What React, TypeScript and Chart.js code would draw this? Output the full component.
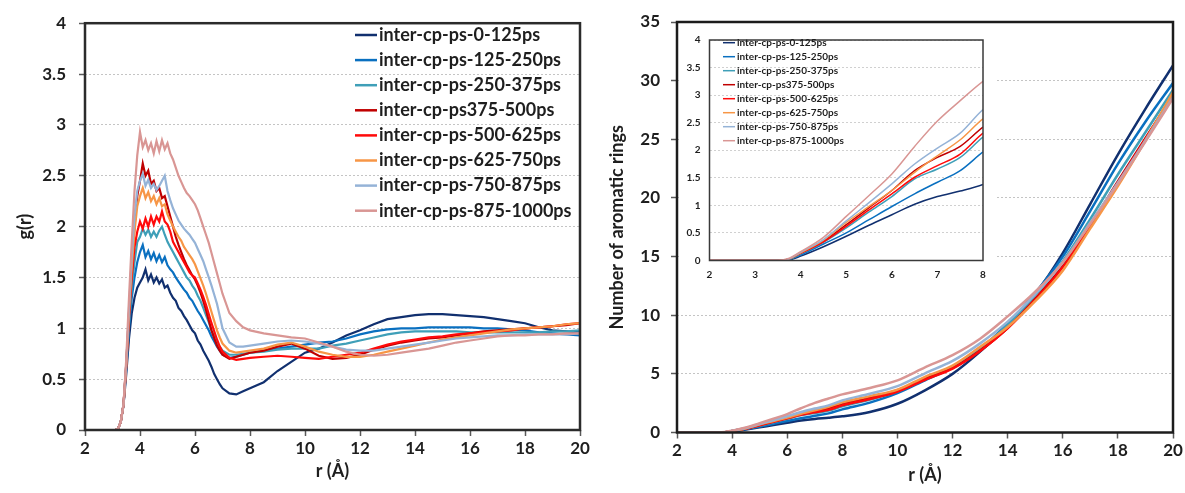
import React, { useEffect, useRef } from "react";
import { Chart, registerables } from "chart.js";

Chart.register(...registerables);

const FONT = "Lato, 'Open Sans', 'DejaVu Sans', sans-serif";
const TEXT = "#1e1e1e";

const SERIES_LABELS = [
  "inter-cp-ps-0-125ps",
  "inter-cp-ps-125-250ps",
  "inter-cp-ps-250-375ps",
  "inter-cp-ps375-500ps",
  "inter-cp-ps-500-625ps",
  "inter-cp-ps-625-750ps",
  "inter-cp-ps-750-875ps",
  "inter-cp-ps-875-1000ps",
];
const COLORS = ["#11306f", "#0a70c0", "#3f9fb8", "#c00000", "#ff0a0a", "#f79646", "#95b3d7", "#d99694"];

// ---- left panel: g(r) ----
const rG = [
  2, 2.5, 3, 3.1, 3.2, 3.3, 3.4, 3.5, 3.6, 3.7, 3.8, 3.9,
  4, 4.1, 4.2, 4.3, 4.4, 4.5, 4.6, 4.7, 4.8, 4.9,
  5, 5.1, 5.2, 5.3, 5.4, 5.5, 5.6, 5.7, 5.8, 5.9,
  6, 6.1, 6.2, 6.3, 6.4, 6.5, 6.6, 6.7, 6.8, 6.9, 7,
  7.25, 7.5, 7.75, 8,
  8.5, 9, 9.5, 10, 10.5, 11, 11.5, 12, 12.5, 13, 13.5, 14, 14.5, 15, 15.5, 16, 16.5, 17, 17.5, 18, 18.5, 19, 19.5, 20,
];
const g0 = [
  0, 0, 0, 0, 0.01, 0.08, 0.24, 0.55, 0.9, 1.15, 1.3, 1.4,
  1.45, 1.5, 1.58, 1.47, 1.53, 1.45, 1.5, 1.44, 1.48, 1.4,
  1.42, 1.35, 1.3, 1.27, 1.2, 1.17, 1.12, 1.08, 1.03, 0.98,
  0.95, 0.88, 0.84, 0.78, 0.73, 0.68, 0.62, 0.55, 0.5, 0.45, 0.41,
  0.36, 0.35, 0.38, 0.41,
  0.47, 0.58, 0.67, 0.76, 0.8, 0.86, 0.93, 0.98, 1.04, 1.09, 1.11, 1.13, 1.14, 1.14, 1.13, 1.12, 1.11, 1.09, 1.07, 1.05, 1.01, 0.98, 0.97, 0.96,
];
const g1 = [
  0, 0, 0, 0, 0.01, 0.08, 0.25, 0.6, 1.0, 1.3, 1.5, 1.65,
  1.75, 1.82, 1.7, 1.76, 1.68, 1.74, 1.66, 1.72, 1.65, 1.7,
  1.62, 1.58, 1.55, 1.5, 1.46, 1.42, 1.38, 1.35, 1.3, 1.27,
  1.22, 1.17, 1.13, 1.08, 1.03, 0.98, 0.92, 0.87, 0.82, 0.78, 0.74,
  0.71, 0.72, 0.74, 0.76,
  0.78, 0.8, 0.82, 0.84, 0.86, 0.87, 0.9, 0.94, 0.97, 0.99, 1.0, 1.0, 1.01, 1.01, 1.01, 1.01, 1.0, 1.0, 0.99, 0.98, 0.96, 0.95, 0.94, 0.93,
];
const g2 = [
  0, 0, 0, 0, 0.01, 0.08, 0.25, 0.62, 1.05, 1.4, 1.65, 1.85,
  1.9, 1.98, 1.92, 1.97, 1.9, 1.95, 1.9, 1.96, 2.0, 1.92,
  1.85, 1.8, 1.75, 1.7, 1.65, 1.6, 1.55, 1.5, 1.47, 1.42,
  1.38, 1.32, 1.27, 1.2, 1.13, 1.06, 0.98, 0.92, 0.86, 0.82, 0.78,
  0.74, 0.74, 0.75, 0.76,
  0.77, 0.79, 0.8, 0.8, 0.8, 0.83, 0.85, 0.88, 0.91, 0.94, 0.96, 0.97, 0.97, 0.97, 0.97, 0.96, 0.96, 0.96, 0.96, 0.96, 0.96, 0.97, 0.97, 0.98,
];
const g3 = [
  0, 0, 0, 0, 0.01, 0.08, 0.25, 0.65, 1.15, 1.6, 2.0, 2.3,
  2.45, 2.62, 2.5, 2.55, 2.42, 2.45, 2.35, 2.38, 2.28, 2.3,
  2.2, 2.1, 2.0, 1.9, 1.82, 1.75, 1.68, 1.62, 1.57, 1.52,
  1.48, 1.42, 1.35, 1.27, 1.18, 1.08, 0.98, 0.9, 0.83, 0.78, 0.74,
  0.7, 0.72, 0.74, 0.76,
  0.78, 0.82, 0.85, 0.8, 0.73, 0.7, 0.71, 0.74, 0.79, 0.83, 0.86, 0.88, 0.9, 0.91, 0.93, 0.95, 0.97, 0.98, 0.99, 1.0, 1.01, 1.02, 1.03, 1.05,
];
const g4 = [
  0, 0, 0, 0, 0.01, 0.08, 0.25, 0.63, 1.1, 1.5, 1.8, 1.95,
  2.05, 1.98, 2.08, 2.0, 2.1, 2.02, 2.1, 2.05, 2.15, 2.05,
  2.02, 1.95, 1.85, 1.8, 1.75, 1.7, 1.65, 1.6, 1.55, 1.52,
  1.5, 1.44, 1.38, 1.31, 1.23, 1.14, 1.05, 0.97, 0.89, 0.82, 0.77,
  0.71, 0.69, 0.7, 0.71,
  0.72, 0.73, 0.72, 0.71, 0.7, 0.72, 0.74, 0.76, 0.8, 0.84, 0.87, 0.89, 0.91, 0.92, 0.94, 0.95, 0.96, 0.97, 0.98, 1.0, 1.01, 1.02, 1.04, 1.05,
];
const g5 = [
  0, 0, 0, 0, 0.01, 0.08, 0.25, 0.64, 1.15, 1.6, 1.95, 2.2,
  2.3, 2.38, 2.28, 2.34, 2.25, 2.3, 2.22, 2.28, 2.2, 2.22,
  2.12, 2.06, 2.0, 1.95, 1.9, 1.86, 1.8, 1.76, 1.72, 1.68,
  1.63, 1.56, 1.49, 1.42, 1.34, 1.25, 1.16, 1.07, 0.98, 0.91, 0.85,
  0.78, 0.76, 0.77, 0.78,
  0.8, 0.84, 0.86, 0.82, 0.77, 0.74, 0.72, 0.72, 0.74, 0.77, 0.8, 0.83, 0.86, 0.89, 0.91, 0.93, 0.95, 0.97, 0.99, 1.0, 1.01, 1.02, 1.04, 1.05,
];
const g6 = [
  0, 0, 0, 0, 0.01, 0.08, 0.25, 0.66, 1.2, 1.7, 2.1, 2.35,
  2.45, 2.52, 2.4, 2.46, 2.38, 2.42, 2.36, 2.4, 2.45, 2.5,
  2.35, 2.26, 2.18, 2.12, 2.06, 2.02, 1.98, 1.95, 1.92, 1.88,
  1.84, 1.78, 1.72, 1.66, 1.58, 1.5, 1.42, 1.33, 1.24, 1.12, 1.0,
  0.86, 0.82, 0.82, 0.83,
  0.85, 0.87, 0.88, 0.87, 0.85, 0.82, 0.79, 0.78, 0.78, 0.8, 0.82, 0.84, 0.86, 0.88, 0.9, 0.91, 0.92, 0.93, 0.93, 0.94, 0.94, 0.94, 0.94, 0.95,
];
const g7 = [
  0, 0, 0, 0, 0.01, 0.08, 0.25, 0.7, 1.3, 1.85, 2.35, 2.7,
  2.93, 2.78, 2.85, 2.75, 2.82, 2.72, 2.84, 2.74, 2.85, 2.76,
  2.82, 2.72, 2.66, 2.58, 2.5, 2.44, 2.38, 2.33, 2.3, 2.26,
  2.22, 2.16, 2.08, 2.0, 1.92, 1.84, 1.74, 1.64, 1.54, 1.44, 1.34,
  1.15, 1.07, 1.01, 0.98,
  0.95, 0.93, 0.91, 0.9, 0.86, 0.82, 0.77, 0.74, 0.73, 0.74, 0.76, 0.78, 0.8, 0.83, 0.86, 0.88, 0.9, 0.92, 0.93, 0.93, 0.94, 0.94, 0.95, 0.95,
];
const G_SERIES = [g0, g1, g2, g3, g4, g5, g6, g7];

// ---- right panel + inset: number of aromatic rings ----
const rC = [2, 3, 3.5, 3.75, 4, 4.5, 5, 5.5, 6, 6.5, 7, 7.5, 8, 9, 10, 11, 12, 13, 14, 15, 16, 17, 18, 19, 20];
const n0 = [0, 0, 0, 0.01, 0.08, 0.25, 0.44, 0.64, 0.83, 1.02, 1.16, 1.26, 1.38, 1.75, 2.45, 3.6, 5.0, 6.9, 9.1, 11.8, 15.3, 19.5, 23.7, 27.6, 31.3];
const n1 = [0, 0, 0, 0.02, 0.1, 0.3, 0.5, 0.74, 0.98, 1.21, 1.42, 1.63, 1.97, 2.55, 3.35, 4.45, 5.55, 7.1, 9.3, 11.9, 15.0, 18.9, 22.9, 26.5, 29.8];
const n2 = [0, 0, 0, 0.02, 0.12, 0.33, 0.59, 0.88, 1.16, 1.48, 1.66, 1.87, 2.24, 2.8, 3.5, 4.55, 5.6, 7.15, 9.2, 11.7, 14.6, 18.2, 22.0, 25.6, 29.2];
const n3 = [0, 0, 0, 0.03, 0.14, 0.35, 0.65, 0.96, 1.27, 1.63, 1.87, 2.07, 2.42, 2.95, 3.6, 4.6, 5.5, 7.0, 8.9, 11.4, 14.2, 17.7, 21.4, 25.1, 28.7];
const n4 = [0, 0, 0, 0.03, 0.13, 0.34, 0.62, 0.92, 1.21, 1.51, 1.72, 1.93, 2.31, 2.85, 3.5, 4.5, 5.45, 6.95, 8.9, 11.3, 14.1, 17.6, 21.3, 25.0, 28.8];
const n5 = [0, 0, 0, 0.03, 0.14, 0.37, 0.69, 0.98, 1.27, 1.6, 1.9, 2.19, 2.57, 3.1, 3.65, 4.75, 5.7, 7.3, 9.0, 11.2, 13.8, 17.4, 21.0, 24.9, 29.0];
const n6 = [0, 0, 0, 0.03, 0.15, 0.38, 0.72, 1.05, 1.39, 1.75, 2.04, 2.31, 2.74, 3.3, 3.95, 5.05, 6.1, 7.6, 9.45, 11.8, 14.5, 17.9, 21.3, 24.9, 28.6];
const n7 = [0, 0, 0, 0.04, 0.16, 0.42, 0.8, 1.18, 1.57, 2.07, 2.53, 2.9, 3.25, 3.8, 4.45, 5.55, 6.6, 8.0, 9.9, 12.0, 14.5, 17.8, 21.2, 24.8, 28.5];
const N_SERIES = [n0, n1, n2, n3, n4, n5, n6, n7];

const G_Y_TICK_STEP = 0.5;
const N_Y_TICK_STEP = 5;
const X_TICK_STEP = 2;

const plainTick = (v: any) => `${v}`;

function framePlugin(color: string, width: number) {
  return {
    id: "frame",
    afterDatasetsDraw(chart: any) {
      const { ctx, chartArea: a } = chart;
      ctx.save();
      ctx.strokeStyle = color;
      ctx.lineWidth = width;
      ctx.strokeRect(a.left, a.top, a.right - a.left, a.bottom - a.top);
      ctx.restore();
    },
  };
}

function whiteBg() {
  return {
    id: "whiteBg",
    beforeDraw(chart: any) {
      const { ctx, width, height } = chart;
      ctx.save();
      ctx.fillStyle = "#ffffff";
      ctx.fillRect(0, 0, width, height);
      ctx.restore();
    },
  };
}

function legendPlugin(o: { x: number; y: number; dy: number; len: number; gap: number; size: number; lw: number }) {
  return {
    id: "insideLegend",
    afterDraw(chart: any) {
      const ctx = chart.ctx;
      ctx.save();
      ctx.font = `bold ${o.size}px ${FONT}`;
      ctx.textBaseline = "middle";
      ctx.textAlign = "left";
      chart.data.datasets.forEach((ds: any, i: number) => {
        const y = o.y + i * o.dy;
        ctx.strokeStyle = ds.borderColor;
        ctx.lineWidth = o.lw;
        ctx.beginPath();
        ctx.moveTo(o.x, y);
        ctx.lineTo(o.x + o.len, y);
        ctx.stroke();
        ctx.fillStyle = TEXT;
        ctx.fillText(ds.label, o.x + o.len + o.gap, y);
      });
      ctx.restore();
    },
  };
}

function makeDatasets(xs: number[], series: number[][], width: number, smooth: boolean) {
  return series.map((vals, i) => ({
    label: SERIES_LABELS[i],
    data: xs.map((x, j) => ({ x, y: vals[j] })),
    borderColor: COLORS[i],
    backgroundColor: COLORS[i],
    borderWidth: width,
    pointRadius: 0,
    fill: false,
    tension: 0,
    cubicInterpolationMode: smooth ? ("monotone" as const) : ("default" as const),
    order: series.length - 1 - i,
  }));
}

function baseOptions() {
  return {
    responsive: false,
    animation: false as const,
    devicePixelRatio: 1,
    events: [] as any[],
    plugins: { legend: { display: false }, tooltip: { enabled: false } },
  };
}

export default function App() {
  const leftRef = useRef<HTMLCanvasElement>(null);
  const rightRef = useRef<HTMLCanvasElement>(null);
  const insetRef = useRef<HTMLCanvasElement>(null);

  useEffect(() => {
    document.body.style.margin = "0";
    const charts: Chart[] = [];
    const tickFont = (size: number) => ({ family: FONT, size, weight: "bold" as const });

    // left chart
    charts.push(
      new Chart(leftRef.current as HTMLCanvasElement, {
        type: "line",
        data: { datasets: makeDatasets(rG, G_SERIES, 2.2, false) as any },
        options: {
          ...baseOptions(),
          layout: { padding: { left: 0, top: 21, right: 20, bottom: 0 } },
          scales: {
            x: {
              type: "linear",
              min: 2,
              max: 20,
              afterFit: (s: any) => { s.height = 63; },
              ticks: { stepSize: X_TICK_STEP, padding: 2, font: tickFont(17), color: TEXT, callback: plainTick },
              grid: { drawOnChartArea: false, drawTicks: true, tickLength: 6, tickColor: "#595959", tickWidth: 1.5 },
              border: { display: false },
              title: { display: true, text: "r (Å)", font: tickFont(18), color: TEXT, padding: { top: 0, bottom: 11 } },
            },
            y: {
              type: "linear",
              min: 0,
              max: 4,
              afterFit: (s: any) => { s.width = 85; },
              ticks: { stepSize: G_Y_TICK_STEP, padding: 13, font: tickFont(17), color: TEXT, callback: plainTick },
              grid: { color: "#c4c4c4", lineWidth: 1, tickLength: 6, tickColor: "#595959", tickWidth: 1.5, tickBorderDash: [] },
              border: { display: false, dash: [2, 2] },
              title: { display: true, text: "g(r)", font: tickFont(18), color: TEXT, padding: { top: 14, bottom: 0 } },
            },
          },
        } as any,
        plugins: [framePlugin("#2b2b2b", 2.5), legendPlugin({ x: 355, y: 35, dy: 25.1, len: 22, gap: 2, size: 18, lw: 2.5 })],
      })
    );

    // right chart
    charts.push(
      new Chart(rightRef.current as HTMLCanvasElement, {
        type: "line",
        data: { datasets: makeDatasets(rC, N_SERIES, 2.5, true) as any },
        options: {
          ...baseOptions(),
          layout: { padding: { left: 0, top: 22, right: 12, bottom: 0 } },
          scales: {
            x: {
              type: "linear",
              min: 2,
              max: 20,
              afterFit: (s: any) => { s.height = 60.5; },
              ticks: { stepSize: X_TICK_STEP, padding: 2, font: tickFont(17), color: TEXT, callback: plainTick },
              grid: { drawOnChartArea: false, drawTicks: true, tickLength: 6, tickColor: "#595959", tickWidth: 1.5 },
              border: { display: false },
              title: { display: true, text: "r (Å)", font: tickFont(18), color: TEXT, padding: { top: 0, bottom: 7 } },
            },
            y: {
              type: "linear",
              min: 0,
              max: 35,
              afterFit: (s: any) => { s.width = 77; },
              ticks: { stepSize: N_Y_TICK_STEP, padding: 11, font: tickFont(17), color: TEXT, callback: plainTick },
              grid: { color: "#c4c4c4", lineWidth: 1, tickLength: 6, tickColor: "#595959", tickWidth: 1.5, tickBorderDash: [] },
              border: { display: false, dash: [2, 2] },
              title: { display: true, text: "Number of aromatic rings", font: tickFont(18), color: TEXT, padding: { top: 6.5, bottom: 0 } },
            },
          },
        } as any,
        plugins: [framePlugin("#1c1c1c", 2.5)],
      })
    );

    // inset chart
    charts.push(
      new Chart(insetRef.current as HTMLCanvasElement, {
        type: "line",
        data: { datasets: makeDatasets(rC, N_SERIES, 1.5, true) as any },
        options: {
          ...baseOptions(),
          layout: { padding: { left: 0, top: 9.5, right: 12, bottom: 0 } },
          scales: {
            x: {
              type: "linear",
              min: 2,
              max: 8,
              afterFit: (s: any) => { s.height = 29.5; },
              ticks: { stepSize: 1, padding: 8, font: tickFont(10), color: TEXT, callback: plainTick },
              grid: { drawOnChartArea: false, drawTicks: false },
              border: { display: false },
            },
            y: {
              type: "linear",
              min: 0,
              max: 4,
              afterFit: (s: any) => { s.width = 30.5; },
              ticks: { stepSize: 0.5, padding: 9, font: tickFont(10), color: TEXT, callback: plainTick },
              grid: { color: "#d0d0d0", lineWidth: 1, drawTicks: false },
              border: { display: false, dash: [2, 2] },
            },
          },
        } as any,
        plugins: [whiteBg(), framePlugin("#3a3a3a", 1.5), legendPlugin({ x: 44, y: 17.7, dy: 14, len: 12, gap: 2, size: 10, lw: 1.5 })],
      })
    );

    return () => charts.forEach((c) => c.destroy());
  }, []);

  return (
    <div style={{ position: "relative", width: 1185, height: 493, background: "#fff" }}>
      <canvas ref={leftRef} width={600} height={493} style={{ position: "absolute", left: 0, top: 0 }} />
      <canvas ref={rightRef} width={585} height={493} style={{ position: "absolute", left: 600, top: 0 }} />
      <canvas ref={insetRef} width={316} height={265} style={{ position: "absolute", left: 679, top: 25 }} />
    </div>
  );
}
